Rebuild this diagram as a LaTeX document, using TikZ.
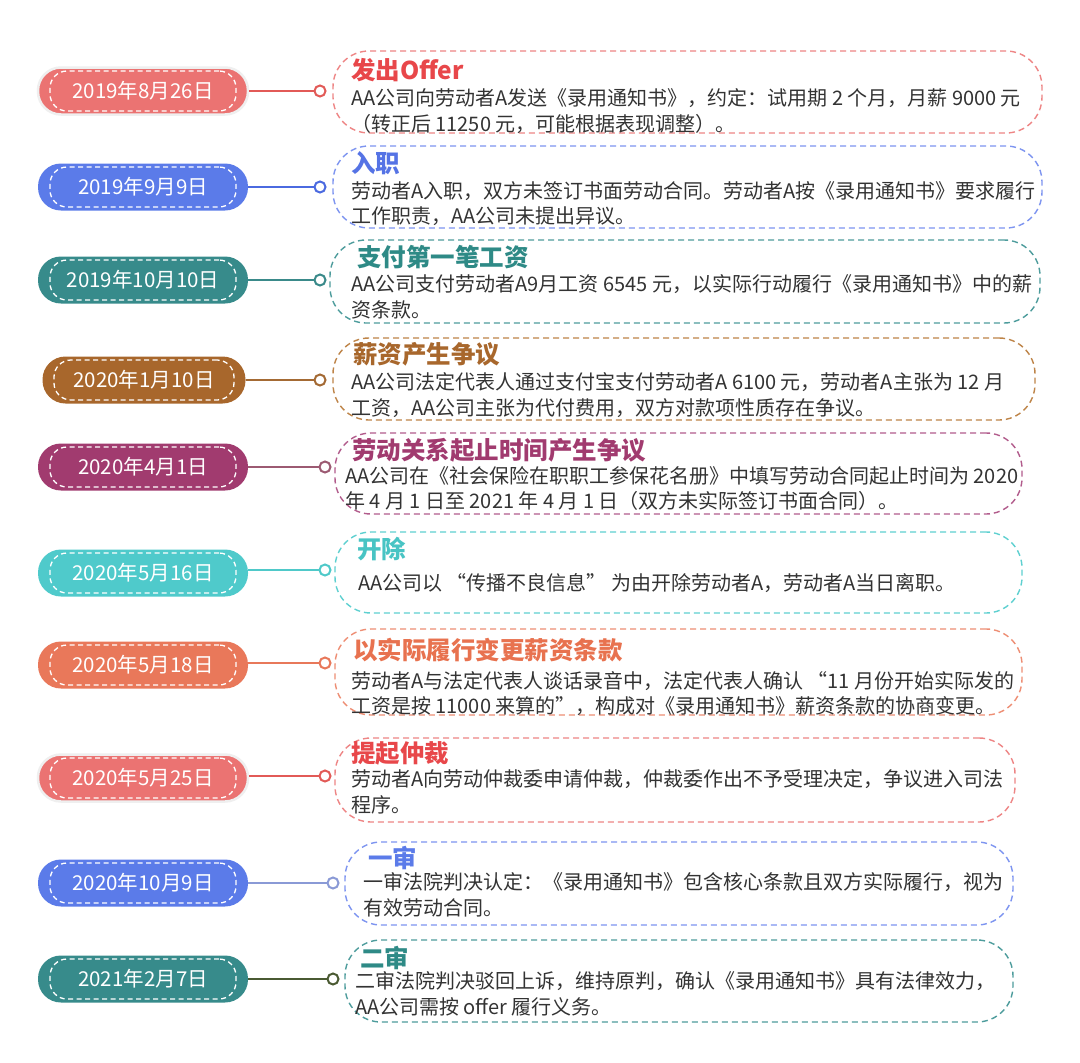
\documentclass[tikz,border=0pt]{standalone}
\usepackage{fontspec}
\setmainfont{Noto Sans CJK SC}
\usetikzlibrary{fit}
\definecolor{pA}{HTML}{EB7372}\definecolor{kA}{HTML}{E25A57}\definecolor{tA}{HTML}{E8474A}\definecolor{bA}{HTML}{EE8585}
\definecolor{pB}{HTML}{5B7BE9}\definecolor{kB}{HTML}{4B6AE0}\definecolor{tB}{HTML}{5573E5}\definecolor{bB}{HTML}{7D94F0}
\definecolor{pC}{HTML}{378B8B}\definecolor{kC}{HTML}{3A8A8A}\definecolor{tC}{HTML}{2E8A86}\definecolor{bC}{HTML}{4D9C9C}
\definecolor{pD}{HTML}{A8672C}\definecolor{kD}{HTML}{A46A34}\definecolor{tD}{HTML}{A8672C}\definecolor{bD}{HTML}{BE8448}
\definecolor{pE}{HTML}{A13B6F}\definecolor{kE}{HTML}{9C5A72}\definecolor{tE}{HTML}{A13B6F}\definecolor{bE}{HTML}{B25C8C}
\definecolor{pF}{HTML}{4FCACB}\definecolor{kF}{HTML}{4FC9C9}\definecolor{tF}{HTML}{48C4C4}\definecolor{bF}{HTML}{5ED0D0}
\definecolor{pG}{HTML}{E9785A}\definecolor{kG}{HTML}{E8785A}\definecolor{tG}{HTML}{E8724F}\definecolor{bG}{HTML}{EE8E74}
\definecolor{kI}{HTML}{8A9AD6}\definecolor{kJ}{HTML}{4A5A32}
\definecolor{bodytext}{HTML}{333333}
\definecolor{glowc}{HTML}{EFEFEF}
\tikzset{
  pill/.style={rounded corners=23pt, minimum width=210pt, minimum height=47pt, inner sep=0pt,
    text=white, font=\fontsize{20.5}{24}\selectfont},
  glow/.style={draw=glowc, line width=2.5pt},
  innerdash/.style={draw=white, dash pattern=on 5pt off 3.5pt, line width=1.3pt, rounded corners=17pt,
    minimum width=186pt, minimum height=40pt, inner sep=0pt},
  circ/.style={circle, minimum size=11pt, inner sep=0pt, line width=2pt, fill=white},
  conn/.style={line width=2pt},
  evbox/.style={rounded corners=36pt, dash pattern=on 6pt off 4pt, line width=1.4pt, inner sep=0pt},
  ttl/.style={anchor=west, inner sep=0pt, font=\fontsize{24.5}{28}\bfseries\selectfont},
  bodyln/.style={anchor=west, inner sep=0pt, text=bodytext, font=\fontsize{20}{24}\selectfont},
}
\begin{document}
\begin{tikzpicture}[x=1pt, y=-1pt]
\useasboundingbox[fill=white] (0,0) rectangle (1080,1063);
% ---------- row 1
\node[pill, fill=pA, glow] (d1) at (143,91) {2019年8月26日};
\node[innerdash] (d1i) at (d1) {};
\node[circ, draw=kA] (c1) at (320,91) {};
\draw[conn, kA] (d1) -- (c1);
\node[evbox, draw=bA, fit={(333,51) (1042,133)}] (b1) {};
\node[ttl, text=tA] (t1) at (351,70) {发出Offer};
\node[bodyln] (l1a) at (351,98) {AA公司向劳动者A发送《录用通知书》，约定：试用期 2 个月，月薪 9000 元};
\node[bodyln] (l1b) at (351,124) {（转正后 11250 元，可能根据表现调整）。};
% ---------- row 2
\node[pill, fill=pB] (d2) at (143,187) {2019年9月9日};
\node[innerdash] (d2i) at (d2) {};
\node[circ, draw=kB] (c2) at (320,187) {};
\draw[conn, kB] (d2) -- (c2);
\node[evbox, draw=bB, fit={(333,146) (1042,228)}] (b2) {};
\node[ttl, text=tB] (t2) at (351,163) {入职};
\node[bodyln] (l2a) at (351,191) {劳动者A入职，双方未签订书面劳动合同。劳动者A按《录用通知书》要求履行};
\node[bodyln] (l2b) at (351,216) {工作职责，AA公司未提出异议。};
% ---------- row 3
\node[pill, fill=pC] (d3) at (143,280) {2019年10月10日};
\node[innerdash] (d3i) at (d3) {};
\node[circ, draw=kC] (c3) at (320,280) {};
\draw[conn, kC] (d3) -- (c3);
\node[evbox, draw=bC, fit={(330,240) (1040,323)}] (b3) {};
\node[ttl, text=tC] (t3) at (357,257) {支付第一笔工资};
\node[bodyln] (l3a) at (351,284) {AA公司支付劳动者A9月工资 6545 元，以实际行动履行《录用通知书》中的薪};
\node[bodyln] (l3b) at (351,310) {资条款。};
% ---------- row 4
\node[pill, fill=pD, minimum width=203pt] (d4) at (144,380) {2020年1月10日};
\node[innerdash, minimum width=180pt] (d4i) at (d4) {};
\node[circ, draw=kD] (c4) at (320,380) {};
\draw[conn, kD] (d4) -- (c4);
\node[evbox, draw=bD, fit={(333,338) (1035,420)}] (b4) {};
\node[ttl, text=tD] (t4) at (353,354) {薪资产生争议};
\node[bodyln] (l4a) at (351,382) {AA公司法定代表人通过支付宝支付劳动者A 6100 元，劳动者A主张为 12 月};
\node[bodyln] (l4b) at (351,408) {工资，AA公司主张为代付费用，双方对款项性质存在争议。};
% ---------- row 5
\node[pill, fill=pE] (d5) at (143,467) {2020年4月1日};
\node[innerdash] (d5i) at (d5) {};
\node[circ, draw=kE] (c5) at (325,467) {};
\draw[conn, kE] (d5) -- (c5);
\node[evbox, draw=bE, fit={(335,433) (1022,514)}] (b5) {};
\node[ttl, text=tE] (t5) at (352,450) {劳动关系起止时间产生争议};
\node[bodyln] (l5a) at (345,476) {AA公司在《社会保险在职职工参保花名册》中填写劳动合同起止时间为 2020};
\node[bodyln] (l5b) at (345,501) {年 4 月 1 日至 2021 年 4 月 1 日（双方未实际签订书面合同）。};
% ---------- row 6
\node[pill, fill=pF] (d6) at (143,573) {2020年5月16日};
\node[innerdash] (d6i) at (d6) {};
\node[circ, draw=kF] (c6) at (325,570) {};
\draw[conn, kF] (d6.east |- c6) -- (c6);
\node[evbox, draw=bF, fit={(335,532) (1022,613)}] (b6) {};
\node[ttl, text=tF] (t6) at (357,549) {开除};
\node[bodyln] (l6a) at (358,583) {AA公司以 “传播不良信息” 为由开除劳动者A，劳动者A当日离职。};
% ---------- row 7
\node[pill, fill=pG] (d7) at (143,665) {2020年5月18日};
\node[innerdash] (d7i) at (d7) {};
\node[circ, draw=kG] (c7) at (325,663) {};
\draw[conn, kG] (d7.east |- c7) -- (c7);
\node[evbox, draw=bG, fit={(335,629) (1022,715)}] (b7) {};
\node[ttl, text=tG] (t7) at (353,650) {以实际履行变更薪资条款};
\node[bodyln] (l7a) at (351,681) {劳动者A与法定代表人谈话录音中，法定代表人确认 “11 月份开始实际发的};
\node[bodyln] (l7b) at (351,706) {工资是按 11000 来算的”，构成对《录用通知书》薪资条款的协商变更。};
% ---------- row 8
\node[pill, fill=pA, glow] (d8) at (143,778) {2020年5月25日};
\node[innerdash] (d8i) at (d8) {};
\node[circ, draw=kA] (c8) at (325,776) {};
\draw[conn, kA] (d8.east |- c8) -- (c8);
\node[evbox, draw=bA, fit={(335,738) (1015,822)}] (b8) {};
\node[ttl, text=tA] (t8) at (351,753) {提起仲裁};
\node[bodyln] (l8a) at (351,779) {劳动者A向劳动仲裁委申请仲裁，仲裁委作出不予受理决定，争议进入司法};
\node[bodyln] (l8b) at (351,805) {程序。};
% ---------- row 9
\node[pill, fill=pB] (d9) at (143,883) {2020年10月9日};
\node[innerdash] (d9i) at (d9) {};
\node[circ, draw=kI] (c9) at (333,883) {};
\draw[conn, kI] (d9) -- (c9);
\node[evbox, draw=bB, fit={(345,842) (1013,925)}] (b9) {};
\node[ttl, text=pB] (t9) at (368,858) {一审};
\node[bodyln] (l9a) at (363,882) {一审法院判决认定：《录用通知书》包含核心条款且双方实际履行，视为};
\node[bodyln] (l9b) at (363,908) {有效劳动合同。};
% ---------- row 10
\node[pill, fill=pC] (d10) at (143,979) {2021年2月7日};
\node[innerdash] (d10i) at (d10) {};
\node[circ, draw=kJ] (c10) at (333,979) {};
\draw[conn, kJ] (d10) -- (c10);
\node[evbox, draw=bC, fit={(345,940) (1013,1022)}] (b10) {};
\node[ttl, text=tC] (t10) at (360,958) {二审};
\node[bodyln] (l10a) at (355,981) {二审法院判决驳回上诉，维持原判，确认《录用通知书》具有法律效力，};
\node[bodyln] (l10b) at (355,1007) {AA公司需按 offer 履行义务。};
\end{tikzpicture}
\end{document}
